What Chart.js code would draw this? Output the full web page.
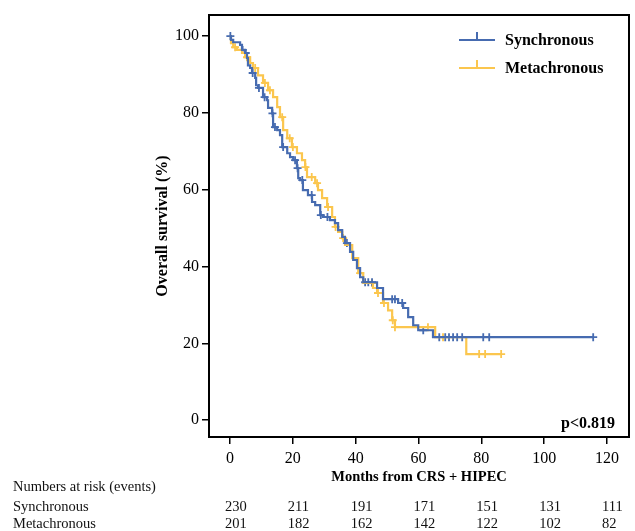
<!DOCTYPE html>
<html>
<head>
<meta charset="utf-8">
<script src="https://cdn.jsdelivr.net/npm/chart.js@4/dist/chart.umd.min.js"></script>
<style>
  html, body { margin: 0; padding: 0; background: #fff; }
  #wrap { width: 635px; height: 531px; }
</style>
</head>
<body>
<div id="wrap"><canvas id="chart" width="635" height="531"></canvas></div>
<script>
// Kaplan-Meier steps: time of each drop (months) and survival (%) after it
const syncTimes = [0, 0.3, 1.0, 3.2, 3.8, 4.8, 5.4, 5.7, 6.4, 7.0, 8.0, 8.3, 8.9, 10.5, 11.8, 12.1, 13.4, 13.7, 15.0, 15.9, 16.6, 18.2, 19.1, 20.1, 21.3, 21.7, 22.3, 23.2, 24.8, 26.1, 27.1, 28.7, 29.6, 31.8, 33.4, 34.4, 35.7, 36.6, 38.2, 39.2, 40.4, 41.4, 42.4, 46.8, 48.7, 53.5, 55.1, 56.7, 58.3, 59.9, 64.6, 115.6];
const syncSurv = [100, 99.0, 98.4, 97.7, 96.4, 95.6, 94.3, 92.4, 91.7, 90.4, 89.1, 87.2, 86.5, 84.1, 83.3, 81.3, 79.9, 76.3, 75.5, 74.2, 71.1, 69.5, 68.5, 67.7, 65.6, 63.0, 62.5, 59.9, 58.6, 56.8, 56.0, 53.4, 52.9, 52.1, 51.3, 49.5, 47.7, 46.1, 43.8, 41.7, 39.6, 37.2, 35.9, 34.4, 31.5, 30.5, 29.2, 26.8, 24.7, 23.4, 21.6, 21.6];
const syncCensor = [0.1, 4.0, 5.0, 7.2, 9.2, 11.0, 13.5, 14.3, 16.9, 20.7, 21.5, 23.0, 26.0, 28.9, 31.0, 37.2, 43.0, 44.0, 45.2, 51.6, 52.5, 54.8, 61.5, 66.6, 68.5, 69.7, 71.0, 72.3, 73.9, 80.6, 82.5, 115.6];

const metaTimes = [0, 0.3, 1.0, 2.2, 3.8, 4.8, 6.4, 7.3, 8.9, 10.5, 12.1, 13.7, 15.0, 15.9, 16.9, 18.2, 19.7, 21.3, 22.9, 23.9, 24.5, 27.1, 28.0, 29.3, 30.9, 32.5, 33.4, 34.4, 35.7, 36.6, 38.9, 40.8, 42.4, 45.5, 46.8, 48.7, 50.3, 51.6, 52.5, 65.3, 75.2, 86.3];
const metaSurv = [100, 98.2, 97.1, 96.4, 95.6, 94.5, 93.0, 91.7, 89.8, 87.8, 85.9, 84.1, 81.5, 78.9, 75.5, 73.4, 71.1, 69.5, 67.7, 65.9, 63.3, 61.7, 59.9, 57.8, 55.5, 52.9, 50.3, 49.0, 47.4, 45.6, 42.2, 38.3, 35.7, 34.4, 33.1, 30.5, 28.6, 26.0, 24.2, 21.6, 17.2, 17.2];
const metaCensor = [1.6, 5.4, 8.0, 11.1, 12.7, 16.6, 19.0, 20.0, 24.0, 26.0, 27.7, 31.2, 33.6, 36.0, 41.4, 45.2, 47.1, 49.0, 51.8, 52.5, 63.0, 67.8, 79.3, 81.2, 86.3];

const groups = ["Synchronous", "Metachronous"];
const colors = ["#466bb0", "#fbc64e"];

const xTicks = [0, 20, 40, 60, 80, 100, 120];
const yTicks = [0, 20, 40, 60, 80, 100];

const riskTimes = [0, 20, 40, 60, 80, 100, 120];
const syncRisk = [230, 211, 191, 171, 151, 131, 111];
const metaRisk = [201, 182, 162, 142, 122, 102, 82];
const pText = "p<0.819";

const SERIF = "'Liberation Serif', 'DejaVu Serif', serif";

function survAt(times, surv, t) {
  let s = surv[0];
  for (let i = 0; i < times.length; i++) if (times[i] <= t) s = surv[i];
  return s;
}
const toPts = (times, surv) => times.map((t, i) => ({ x: t, y: surv[i] }));
const censorPts = (cs, times, surv) => cs.map(t => ({ x: t, y: survAt(times, surv, t) }));

const extras = {
  id: "extras",
  afterDraw(chart) {
    const { ctx, chartArea: a, scales } = chart;
    ctx.save();
    // frame
    ctx.strokeStyle = "#000";
    ctx.lineWidth = 2;
    ctx.strokeRect(a.left, a.top, a.right - a.left, a.bottom - a.top);

    // legend inside the plot
    ctx.textBaseline = "middle";
    ctx.textAlign = "left";
    ctx.font = "bold 16px " + SERIF;
    groups.forEach((g, i) => {
      const y = a.top + 25 + i * 28;
      const x0 = a.right - 170;
      ctx.strokeStyle = colors[i];
      ctx.lineWidth = 2;
      ctx.beginPath();
      ctx.moveTo(x0, y); ctx.lineTo(x0 + 36, y);
      ctx.moveTo(x0 + 18, y); ctx.lineTo(x0 + 18, y - 8);
      ctx.stroke();
      ctx.fillStyle = "#000";
      ctx.fillText(g, x0 + 46, y + 1);
    });

    // p value
    ctx.textAlign = "right";
    ctx.fillText(pText, a.right - 14, a.bottom - 13);

    // numbers at risk
    ctx.font = "14.5px " + SERIF;
    ctx.textAlign = "left";
    ctx.fillStyle = "#111";
    ctx.fillText("Numbers at risk (events)", 13, 487);
    ctx.fillText(groups[0], 13, 507);
    ctx.fillText(groups[1], 13, 524);
    riskTimes.forEach((t, i) => {
      const x = scales.x.getPixelForValue(t) - 5;
      ctx.fillText(String(syncRisk[i]), x, 507);
      ctx.fillText(String(metaRisk[i]), x, 524);
    });
    ctx.restore();
  }
};

new Chart(document.getElementById("chart"), {
  type: "line",
  data: {
    datasets: [
      { label: groups[0], data: toPts(syncTimes, syncSurv), borderColor: colors[0], borderWidth: 2.2, stepped: "before", pointRadius: 0, fill: false },
      { label: groups[1], data: toPts(metaTimes, metaSurv), borderColor: colors[1], borderWidth: 2.2, stepped: "before", pointRadius: 0, fill: false },
      { label: "c1", data: censorPts(syncCensor, syncTimes, syncSurv), showLine: false, pointStyle: "cross", pointRadius: 4, borderColor: colors[0], backgroundColor: colors[0], pointBorderWidth: 1.8 },
      { label: "c2", data: censorPts(metaCensor, metaTimes, metaSurv), showLine: false, pointStyle: "cross", pointRadius: 4, borderColor: colors[1], backgroundColor: colors[1], pointBorderWidth: 1.8 }
    ]
  },
  options: {
    responsive: false,
    animation: false,
    layout: { padding: { left: 149, right: 6, top: 15, bottom: 41 } },
    plugins: { legend: { display: false }, tooltip: { enabled: false } },
    scales: {
      x: {
        type: "linear",
        min: -6.7,
        max: 127,
        afterBuildTicks: s => { s.ticks = xTicks.map(v => ({ value: v })); },
        afterFit: s => { s.height = 53; },
        grid: { drawOnChartArea: false, drawTicks: true, tickLength: 7, color: "#000", lineWidth: 1.5 },
        border: { display: false },
        ticks: { color: "#000", font: { family: SERIF, size: 16 }, padding: 5, maxRotation: 0 },
        title: { display: true, text: "Months from CRS + HIPEC", color: "#000", font: { family: SERIF, size: 14.5, weight: "bold" }, padding: { top: 7, bottom: 4 } }
      },
      y: {
        min: -4.4,
        max: 105.5,
        afterBuildTicks: s => { s.ticks = yTicks.map(v => ({ value: v })); },
        afterFit: s => { s.width = 60; },
        grid: { drawOnChartArea: false, drawTicks: true, tickLength: 7, color: "#000", lineWidth: 1.5 },
        border: { display: false },
        ticks: { color: "#000", font: { family: SERIF, size: 16 }, padding: 3 },
        title: { display: true, text: "Overall survival (%)", color: "#000", font: { family: SERIF, size: 16, weight: "bold" }, padding: { top: 4, bottom: 4 } }
      }
    }
  },
  plugins: [extras]
});
</script>
</body>
</html>
